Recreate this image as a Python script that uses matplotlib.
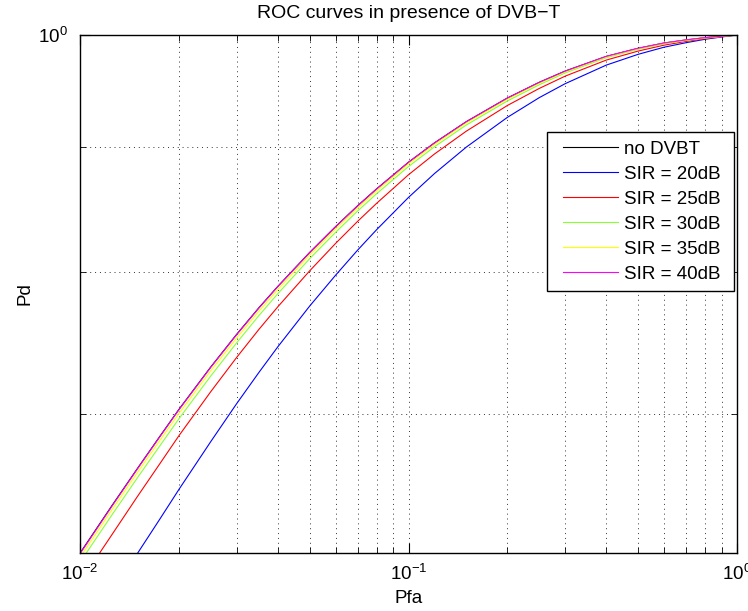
import numpy as np
import matplotlib
matplotlib.use("Agg")
import matplotlib.pyplot as plt
from matplotlib.ticker import LogLocator, NullFormatter, FixedLocator, FixedFormatter
from matplotlib.legend_handler import HandlerLine2D

plt.rcParams['font.family'] = ['Liberation Sans', 'DejaVu Sans']
plt.rcParams['mathtext.default'] = 'regular'

pfa = [0.01, 0.0125, 0.015, 0.0175, 0.02, 0.025, 0.03, 0.035, 0.04, 0.05, 0.06, 0.07, 0.08,
       0.1, 0.12, 0.15, 0.2, 0.25, 0.3, 0.4, 0.5, 0.6, 0.7, 0.8, 0.9, 1.0]

pd_no_dvbt = [0.6144, 0.6424, 0.6657, 0.6857, 0.7033, 0.7319, 0.7548, 0.7737, 0.7895, 0.8151, 0.8352, 0.8517, 0.8654,
              0.8873, 0.9036, 0.9218, 0.9425, 0.9565, 0.9667, 0.9801, 0.9876, 0.9925, 0.9954, 0.9975, 0.9989, 1.0]
pd_sir20 = [0.5647, 0.5916, 0.6146, 0.6344, 0.6523, 0.6823, 0.7072, 0.7280, 0.7459, 0.7750, 0.7979, 0.8169, 0.8328,
            0.8584, 0.8779, 0.9000, 0.9255, 0.9428, 0.9553, 0.9721, 0.9820, 0.9886, 0.9928, 0.9960, 0.9982, 1.0]
pd_sir25 = [0.5978, 0.6251, 0.6484, 0.6683, 0.6861, 0.7151, 0.7386, 0.7581, 0.7745, 0.8011, 0.8221, 0.8393, 0.8537,
            0.8769, 0.8942, 0.9136, 0.9359, 0.9510, 0.9621, 0.9767, 0.9850, 0.9905, 0.9940, 0.9966, 0.9984, 1.0]
pd_sir30 = [0.6091, 0.6368, 0.6599, 0.6796, 0.6971, 0.7257, 0.7488, 0.7680, 0.7841, 0.8103, 0.8307, 0.8475, 0.8614,
            0.8837, 0.9003, 0.9189, 0.9399, 0.9543, 0.9650, 0.9789, 0.9867, 0.9918, 0.9948, 0.9971, 0.9987, 1.0]
pd_sir35 = [0.6120, 0.6399, 0.6632, 0.6831, 0.7006, 0.7293, 0.7522, 0.7712, 0.7872, 0.8131, 0.8333, 0.8499, 0.8637,
            0.8858, 0.9022, 0.9206, 0.9414, 0.9556, 0.9659, 0.9796, 0.9872, 0.9922, 0.9952, 0.9973, 0.9988, 1.0]
pd_sir40 = [0.6140, 0.6420, 0.6654, 0.6854, 0.7030, 0.7316, 0.7545, 0.7734, 0.7893, 0.8149, 0.8350, 0.8515, 0.8652,
            0.8872, 0.9035, 0.9217, 0.9424, 0.9564, 0.9666, 0.9801, 0.9876, 0.9925, 0.9954, 0.9975, 0.9989, 1.0]

labels = ['no DVBT', 'SIR = 20dB', 'SIR = 25dB', 'SIR = 30dB', 'SIR = 35dB', 'SIR = 40dB']
colors = ['#000000', '#0000ff', '#ff0000', '#88ff33', '#ffff00', '#ff00ff']
series = [pd_no_dvbt, pd_sir20, pd_sir25, pd_sir30, pd_sir35, pd_sir40]


class ShiftedLine(HandlerLine2D):
    def get_xdata(self, legend, xdescent, ydescent, width, height, fontsize):
        xd, xm = super().get_xdata(legend, xdescent, ydescent, width, height, fontsize)
        xd = np.asarray(xd, dtype=float).copy()
        xd[0] += 5.8
        return xd, xm


fig = plt.figure(figsize=(7.48, 6.11), dpi=100)
ax = fig.add_axes([80/748, 1-553/611, 657/748, 518/611])

for s, c, l in zip(series, colors, labels):
    ax.plot(pfa, s, color=c, lw=0.8, label=l + ' ')

ax.set_xscale('log')
ax.set_yscale('log')
ax.set_xlim(0.01, 1.0)
ax.set_ylim(0.6145, 1.0)

ax.yaxis.set_major_locator(FixedLocator([1.0]))
ax.yaxis.set_major_formatter(FixedFormatter(['$10^{0}$']))
ax.yaxis.set_minor_locator(FixedLocator([0.7, 0.8, 0.9]))
ax.yaxis.set_minor_formatter(NullFormatter())
ax.xaxis.set_major_locator(LogLocator(base=10))
ax.xaxis.set_minor_locator(LogLocator(base=10, subs=np.arange(2, 10)))
ax.xaxis.set_minor_formatter(NullFormatter())

ax.tick_params(which='both', direction='in', top=True, right=True, labelsize=13.5, color='black')
ax.tick_params(which='major', length=7, width=0.8)
ax.tick_params(which='minor', length=4, width=0.6)
ax.tick_params(axis='x', pad=8)
ax.tick_params(axis='y', pad=9)

ax.grid(True, which='both', linestyle=(0, (1, 4)), color='#333333', linewidth=0.7)
for sp in ax.spines.values():
    sp.set_linewidth(1.0)
    sp.set_color('black')

ax.set_title('ROC curves in presence of DVB\u2212T', fontsize=14, pad=12)
ax.set_xlabel('Pfa', fontsize=13.5, labelpad=4)
ax.set_ylabel('Pd', fontsize=13.5, labelpad=3)

leg = ax.legend(loc='upper right', bbox_to_anchor=(0.9954, (553-132)/518), borderaxespad=0,
                fontsize=13.5, fancybox=False, framealpha=1, edgecolor='black',
                handlelength=3.36, handletextpad=0.3, labelspacing=0.42, borderpad=0.45,
                handler_map={matplotlib.lines.Line2D: ShiftedLine()})
leg.get_frame().set_linewidth(1.0)

fig.savefig('out.png', dpi=100)
